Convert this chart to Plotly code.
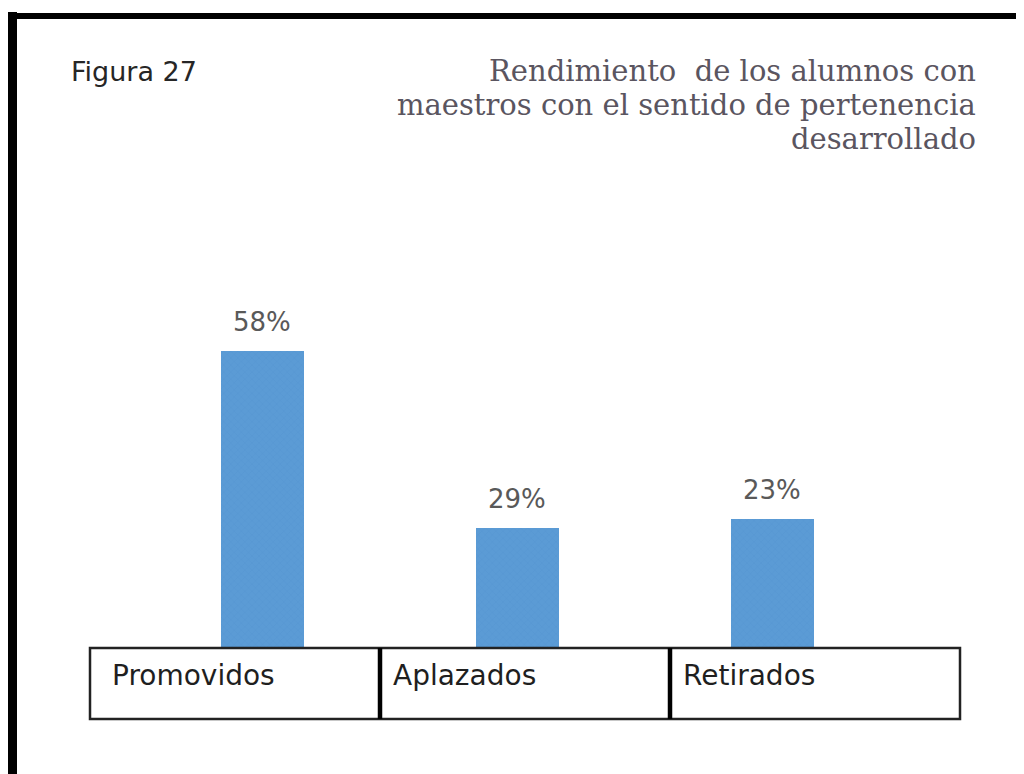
import plotly.graph_objects as go

# ---- data ----
categories = ["Promovidos", "Aplazados", "Retirados"]
bar_heights = [58, 23.3, 25.1]          # heights as drawn in the picture
value_labels = ["58%", "29%", "23%"]    # labels printed above the bars
figure_label = "Figura 27"
title_lines = ["Rendimiento\u00a0 de los alumnos con",
               "maestros con el sentido de pertenencia",
               "desarrollado"]

# page has an 8px body margin: make the figure fit the viewport exactly
OFF = 8
W, H = 1024 - OFF, 774 - OFF

# pixel geometry helpers (layout only, in screenshot pixel coordinates)
x0_px, dx_px = 262.0, 255.0     # centre of first category, category spacing
y0_px, ppu = 647.0, 5.1         # baseline pixel, pixels per unit
x_range = [(OFF - x0_px) / dx_px, (OFF + W - x0_px) / dx_px]
y_range = [-(OFF + H - y0_px) / ppu, (y0_px - OFF) / ppu]


def px(x):
    return (x - OFF) / W


def py(y):
    return 1 - (y - OFF) / H


fig = go.Figure()
fig.add_trace(go.Bar(
    x=categories, y=bar_heights, width=83 / dx_px,
    marker=dict(color="#5B9BD5",
                line=dict(width=0),
                pattern=dict(shape="x", size=5, solidity=0.12,
                             fgcolor="#4A8AC8")),
    hovertext=value_labels, hoverinfo="x+text",
))

annotations = []
for c, h, t in zip(categories, bar_heights, value_labels):
    annotations.append(dict(x=c, y=h, xref="x", yref="y", text=t,
                            showarrow=False, yanchor="middle", yshift=29,
                            font=dict(family="DejaVu Sans", size=26,
                                      color="#595959")))

annotations.append(dict(x=px(69), y=py(72), xref="paper", yref="paper",
                        text=figure_label, showarrow=False,
                        xanchor="left", yanchor="middle",
                        font=dict(family="DejaVu Sans", size=27,
                                  color="#262626")))

for i, line in enumerate(title_lines):
    annotations.append(dict(x=px(978), y=py(71 + 34 * i), xref="paper",
                            yref="paper", text=line, showarrow=False,
                            xanchor="right", yanchor="middle",
                            font=dict(family="DejaVu Serif", size=29,
                                      color="#5a5560")))

cell_edges = [90, 380, 670, 960]
label_x = [110, 391, 681]
for c, lx in zip(categories, label_x):
    annotations.append(dict(x=px(lx), y=py(675), xref="paper", yref="paper",
                            text=c, showarrow=False, xanchor="left",
                            yanchor="middle",
                            font=dict(family="DejaVu Sans", size=28,
                                      color="#1f1f1f")))

shapes = []
# outer page frame (left and top)
shapes.append(dict(type="line", xref="paper", yref="paper",
                   x0=px(12.5), x1=px(12.5), y0=py(12), y1=py(800),
                   line=dict(color="#000000", width=9)))
shapes.append(dict(type="line", xref="paper", yref="paper",
                   x0=px(8), x1=px(1100), y0=py(16), y1=py(16),
                   line=dict(color="#000000", width=6)))
# table under bars
shapes.append(dict(type="rect", xref="paper", yref="paper",
                   x0=px(cell_edges[0]), x1=px(cell_edges[-1]),
                   y0=py(648), y1=py(719),
                   line=dict(color="#222222", width=2.5)))
for e in cell_edges[1:-1]:
    shapes.append(dict(type="line", xref="paper", yref="paper",
                       x0=px(e), x1=px(e), y0=py(648), y1=py(719),
                       line=dict(color="#000000", width=4.5)))

fig.update_layout(
    width=W, height=H,
    margin=dict(l=0, r=0, t=0, b=0),
    paper_bgcolor="white", plot_bgcolor="white",
    showlegend=False,
    xaxis=dict(range=x_range, visible=False, fixedrange=True),
    yaxis=dict(range=y_range, visible=False, fixedrange=True),
    annotations=annotations,
    shapes=shapes,
    bargap=0,
)

fig.write_html("out.html", config={"displayModeBar": False})
